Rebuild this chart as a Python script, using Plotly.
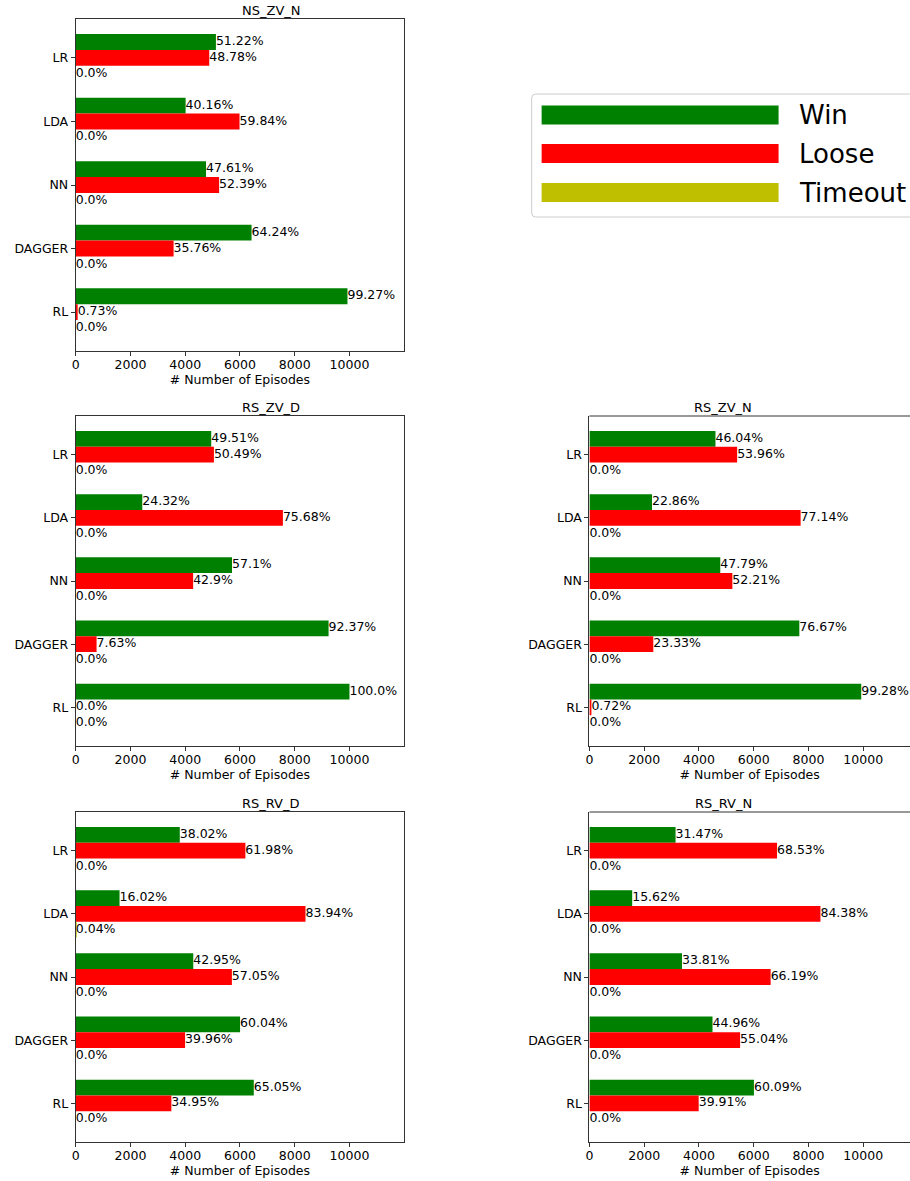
import plotly.graph_objects as go

# ---- data (percent of episodes) ----
N_EPISODES = 10000
categories = ["LR", "LDA", "NN", "DAGGER", "RL"]
outcomes = ["Win", "Loose", "Timeout"]
colors = ["#008000", "#ff0000", "#bfbf00"]

ns_zv_n_win = [51.22, 40.16, 47.61, 64.24, 99.27]
ns_zv_n_loose = [48.78, 59.84, 52.39, 35.76, 0.73]
ns_zv_n_timeout = [0.0, 0.0, 0.0, 0.0, 0.0]

rs_zv_d_win = [49.51, 24.32, 57.1, 92.37, 100.0]
rs_zv_d_loose = [50.49, 75.68, 42.9, 7.63, 0.0]
rs_zv_d_timeout = [0.0, 0.0, 0.0, 0.0, 0.0]

rs_zv_n_win = [46.04, 22.86, 47.79, 76.67, 99.28]
rs_zv_n_loose = [53.96, 77.14, 52.21, 23.33, 0.72]
rs_zv_n_timeout = [0.0, 0.0, 0.0, 0.0, 0.0]

rs_rv_d_win = [38.02, 16.02, 42.95, 60.04, 65.05]
rs_rv_d_loose = [61.98, 83.94, 57.05, 39.96, 34.95]
rs_rv_d_timeout = [0.0, 0.04, 0.0, 0.0, 0.0]

rs_rv_n_win = [31.47, 15.62, 33.81, 44.96, 60.09]
rs_rv_n_loose = [68.53, 84.38, 66.19, 55.04, 39.91]
rs_rv_n_timeout = [0.0, 0.0, 0.0, 0.0, 0.0]

x_ticks = [0, 2000, 4000, 6000, 8000, 10000]

W, H = 910, 1181
# panel boxes in pixels: title, data, left, right, top, bottom
panels = [
    ("NS_ZV_N", (ns_zv_n_win, ns_zv_n_loose, ns_zv_n_timeout), 72, 402, 19, 351),
    ("RS_ZV_D", (rs_zv_d_win, rs_zv_d_loose, rs_zv_d_timeout), 72, 402, 416, 746),
    ("RS_ZV_N", (rs_zv_n_win, rs_zv_n_loose, rs_zv_n_timeout), 588, 918, 416, 746),
    ("RS_RV_D", (rs_rv_d_win, rs_rv_d_loose, rs_rv_d_timeout), 72, 402, 812, 1142),
    ("RS_RV_N", (rs_rv_n_win, rs_rv_n_loose, rs_rv_n_timeout), 588, 918, 812, 1142),
]

XMAX = 12000
BAR_H = 0.25
FONT = "DejaVu Sans"


def px(x):
    return x / W


def py(y):
    return 1 - y / H


fig = go.Figure()
layout = {}
annotations = []
shapes = []

pos = [len(categories) - 1 - i for i in range(len(categories))]

for k, (title, series, left, right, top, bottom) in enumerate(panels):
    ax = "" if k == 0 else str(k + 1)
    xa, ya = "x" + ax, "y" + ax
    clip_right = min(right, W)
    x_end = XMAX * (clip_right - left) / (right - left)

    for j, vals in enumerate(series):
        offset = BAR_H * (1 - j)
        yv = [p + offset for p in pos]
        xv = [v * N_EPISODES / 100 for v in vals]
        fig.add_trace(go.Bar(
            x=xv, y=yv, orientation="h", width=BAR_H,
            marker=dict(color=colors[j], line=dict(width=0)),
            xaxis=xa, yaxis=ya, showlegend=False, hoverinfo="skip"
        ))
        fig.add_trace(go.Scatter(
            x=xv, y=yv, mode="text",
            text=[f"{v}%" for v in vals],
            textposition="middle right",
            textfont=dict(family=FONT, size=12.5, color="black"),
            xaxis=xa, yaxis=ya, showlegend=False, hoverinfo="skip",
            cliponaxis=False
        ))

    layout["xaxis" + ax] = dict(
        domain=[px(left), px(clip_right)], range=[0, x_end], anchor=ya,
        tickvals=x_ticks, ticktext=[str(t) for t in x_ticks],
        ticks="outside", ticklen=4, tickcolor="#333", ticklabelstandoff=-2,
        showline=True, linecolor="#333", linewidth=1, mirror=(right <= W),
        showgrid=False, zeroline=False,
        tickfont=dict(family=FONT, size=12.5, color="black"),
        title=dict(text="# Number of Episodes", standoff=0,
                   font=dict(family=FONT, size=12.5, color="black")),
    )
    layout["yaxis" + ax] = dict(
        domain=[py(bottom), py(top)], range=[-0.6125, 4.6125], anchor=xa,
        tickvals=pos, ticktext=categories, ticks="outside", ticklen=4,
        tickcolor="#333", showline=True, linecolor="#333", linewidth=1,
        mirror=(right <= W), showgrid=False, zeroline=False,
        tickfont=dict(family=FONT, size=12.5, color="black"),
    )
    if right > W:
        # top spine (right spine falls outside the page)
        shapes.append(dict(type="line", xref="paper", yref="paper",
                           x0=px(left), x1=1, y0=py(top), y1=py(top),
                           line=dict(color="#333", width=1)))
    annotations.append(dict(
        text=title, xref="paper", yref="paper",
        x=px((left + right) / 2), y=py(top), yanchor="bottom", yshift=-1,
        showarrow=False, font=dict(family=FONT, size=13, color="black")
    ))

# legend drawn by hand (wide matplotlib-style patches)
lx0, lx1, ly0, ly1, r = 530, 925, 94, 217, 4
shapes.append(dict(
    type="path", xref="paper", yref="paper",
    path=(f"M {px(lx0 + r)},{py(ly0)} L {px(lx1)},{py(ly0)} L {px(lx1)},{py(ly1)} "
          f"L {px(lx0 + r)},{py(ly1)} Q {px(lx0)},{py(ly1)} {px(lx0)},{py(ly1 - r)} "
          f"L {px(lx0)},{py(ly0 + r)} Q {px(lx0)},{py(ly0)} {px(lx0 + r)},{py(ly0)} Z"),
    line=dict(color="#cccccc", width=1), fillcolor="white"
))
row_y = [115, 153.5, 192.5]
for name, c, yc in zip(outcomes, colors, row_y):
    shapes.append(dict(type="rect", xref="paper", yref="paper",
                       x0=px(540), x1=px(778), y0=py(yc - 9.5), y1=py(yc + 9.5),
                       fillcolor=c, line=dict(width=0)))
    annotations.append(dict(text=name, xref="paper", yref="paper",
                            x=px(796), y=py(yc), xanchor="left", yanchor="middle",
                            showarrow=False,
                            font=dict(family=FONT, size=26, color="black")))

fig.update_layout(
    width=W, height=H, margin=dict(l=0, r=0, t=0, b=0),
    paper_bgcolor="white", plot_bgcolor="white",
    barmode="overlay", annotations=annotations, shapes=shapes,
    **layout
)

fig.write_html("out.html", config={"displayModeBar": False},
               post_script="document.body.style.margin='0';"
                           "document.body.style.overflow='hidden';")
